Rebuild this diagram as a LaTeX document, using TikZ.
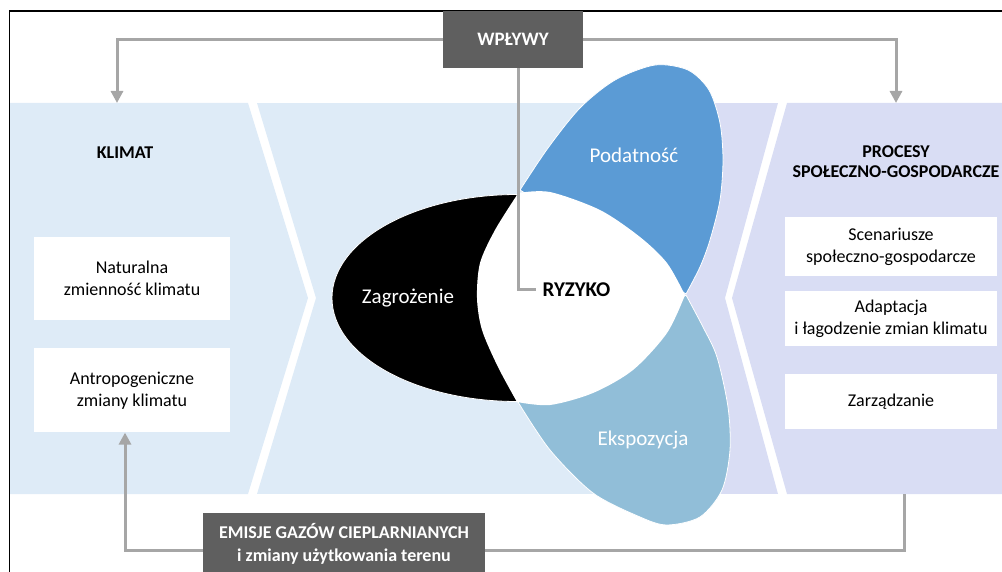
\documentclass[tikz,border=0pt]{standalone}
\usepackage{fontspec}
\setmainfont{Carlito}
\usepackage{tikz}
\usetikzlibrary{arrows.meta,calc,positioning}
\definecolor{paneblue}{HTML}{DEEBF7}
\definecolor{panelav}{HTML}{D9DDF4}
\definecolor{vulblue}{HTML}{5B9BD5}
\definecolor{expblue}{HTML}{91BED8}
\definecolor{boxgray}{HTML}{5F5F5F}
\definecolor{linegray}{HTML}{A6A6A6}
\tikzset{
  wbox/.style={
    shape = rectangle,
    fill = white,
    align = center,
    inner sep = 0pt,
    font = \fontsize{18}{22}\selectfont
  },
  gbox/.style={
    shape = rectangle,
    fill = boxgray,
    text = white,
    align = center,
    inner sep = 0pt,
    font = \bfseries\fontsize{18}{23}\selectfont
  },
  conn/.style={
    draw = linegray,
    line width = 3pt
  },
  arr/.style={
    -{Triangle[width=12pt,length=12pt]}
  },
  petal/.style={
    draw = white,
    line width = 0.8pt
  },
  lbl/.style={
    text = white,
    font = \fontsize{21}{25}\selectfont
  },
  head/.style={
    align = center,
    font = \bfseries\fontsize{18}{20}\selectfont
  }
}
\begin{document}
\begin{tikzpicture}[x=1pt,y=-1pt]
    \def\ptop{103}
    \def\pbot{494}
    \def\pmid{298}
    \useasboundingbox (0,0) rectangle (1002,572);
    \clip (0,0) rectangle (1002,572);
    % panels
    \fill[paneblue] (10,\ptop) -- (248,\ptop) -- (308,\pmid) -- (248,\pbot) -- (10,\pbot) -- cycle;
    \begin{scope}
    \clip (257,\ptop) -- (778,\ptop) -- (725,\pmid) -- (778,\pbot) -- (257,\pbot) -- (316,\pmid) -- cycle;
    \fill[paneblue] (250,\ptop) rectangle (680,\pbot);
    \fill[panelav] (680,\ptop) rectangle (790,\pbot);
    \end{scope}
    \fill[panelav] (787,\ptop) -- (1010,\ptop) -- (1010,\pbot) -- (787,\pbot) -- (732,\pmid) -- cycle;
    \draw[line width=1.5pt] (9.5,590) -- (9.5,11) -- (1010,11);
    % petals
    \filldraw[petal, fill=black] (517,194.5) arc[start angle=270, end angle=90, x radius=185, y radius=103.5] -- cycle;
    \filldraw[petal, fill=vulblue] plot[smooth] coordinates {(520,190) (548,148) (580,108) (615,80) (655,65) (688,70) (709,90) (720,123) (723,160) (720,200) (710,240) (700,267) (686,294)} -- cycle;
    \filldraw[petal, fill=expblue] plot[smooth] coordinates {(518,402) (550,450) (593,493) (640,517) (667,525) (700,517) (722,490) (730,450) (728,407) (717,357) (703,327) (686,295)} -- cycle;
    \fill[white] plot[smooth] coordinates {(518,193) (550,192) (600,210) (640,237) (667,263) (685,295)}
      -- plot[smooth] coordinates {(685,295) (667,333) (633,370) (593,393) (550,405) (517,402)}
      -- plot[smooth] coordinates {(517,402) (498,367) (482,330) (477,298) (480,263) (495,230) (517,195)} -- cycle;
    \node[lbl] (zagr) at (408,298) {Zagrożenie};
    \node[lbl] (podat) at (634,155) {Podatność};
    \node[lbl] (ekspo) at (643,440) {Ekspozycja};
    \node[font=\bfseries\fontsize{21}{25}\selectfont, inner sep=6pt] (ryzyko) at (576.5,290) {RYZYKO};
    % boxes
    \node[head] (klimat) at (125,153) {KLIMAT};
    \node[head] (procesy) at (896,162) {PROCESY\\SPOŁECZNO-GOSPODARCZE};
    \node[wbox, minimum width=196pt, minimum height=83pt] (natur) at (132,278.5) {Naturalna\\zmienność klimatu};
    \node[wbox, minimum width=196pt, minimum height=84pt, below=28pt of natur] (antro) {Antropogeniczne\\zmiany klimatu};
    \node[wbox, minimum width=212pt, minimum height=59pt] (scen) at (891,246.5) {Scenariusze\\społeczno-gospodarcze};
    \node[wbox, minimum width=212pt, minimum height=55pt, below=15pt of scen] (adapt) {Adaptacja\\i łagodzenie zmian klimatu};
    \node[wbox, minimum width=212pt, minimum height=55pt, below=27pt of adapt] (zarz) {Zarządzanie};
    \node[gbox, minimum width=140pt, minimum height=57pt, font=\bfseries\fontsize{19}{23}\selectfont] (wplywy) at (513,39.5) {WPŁYWY};
    \node[gbox, minimum width=282pt, minimum height=62pt] (emisje) at (344,543.5) {EMISJE GAZÓW CIEPLARNIANYCH\\i zmiany użytkowania terenu};
    % connectors
    \coordinate (klimtop) at (117,\ptop);
    \coordinate (proctop) at (896,\ptop);
    \coordinate (procbot) at (904,\pbot);
    \draw[conn, arr] (wplywy.west) -| (klimtop);
    \draw[conn, arr] (wplywy.east) -| (proctop);
    \draw[conn] ([xshift=5pt]wplywy.south) |- (ryzyko.west);
    \draw[conn] (procbot) |- ([yshift=-6.5pt]emisje.east);
    \draw[conn, arr] ([yshift=-6.5pt]emisje.west) -| ([xshift=-7pt]antro.south);
\end{tikzpicture}
\end{document}
